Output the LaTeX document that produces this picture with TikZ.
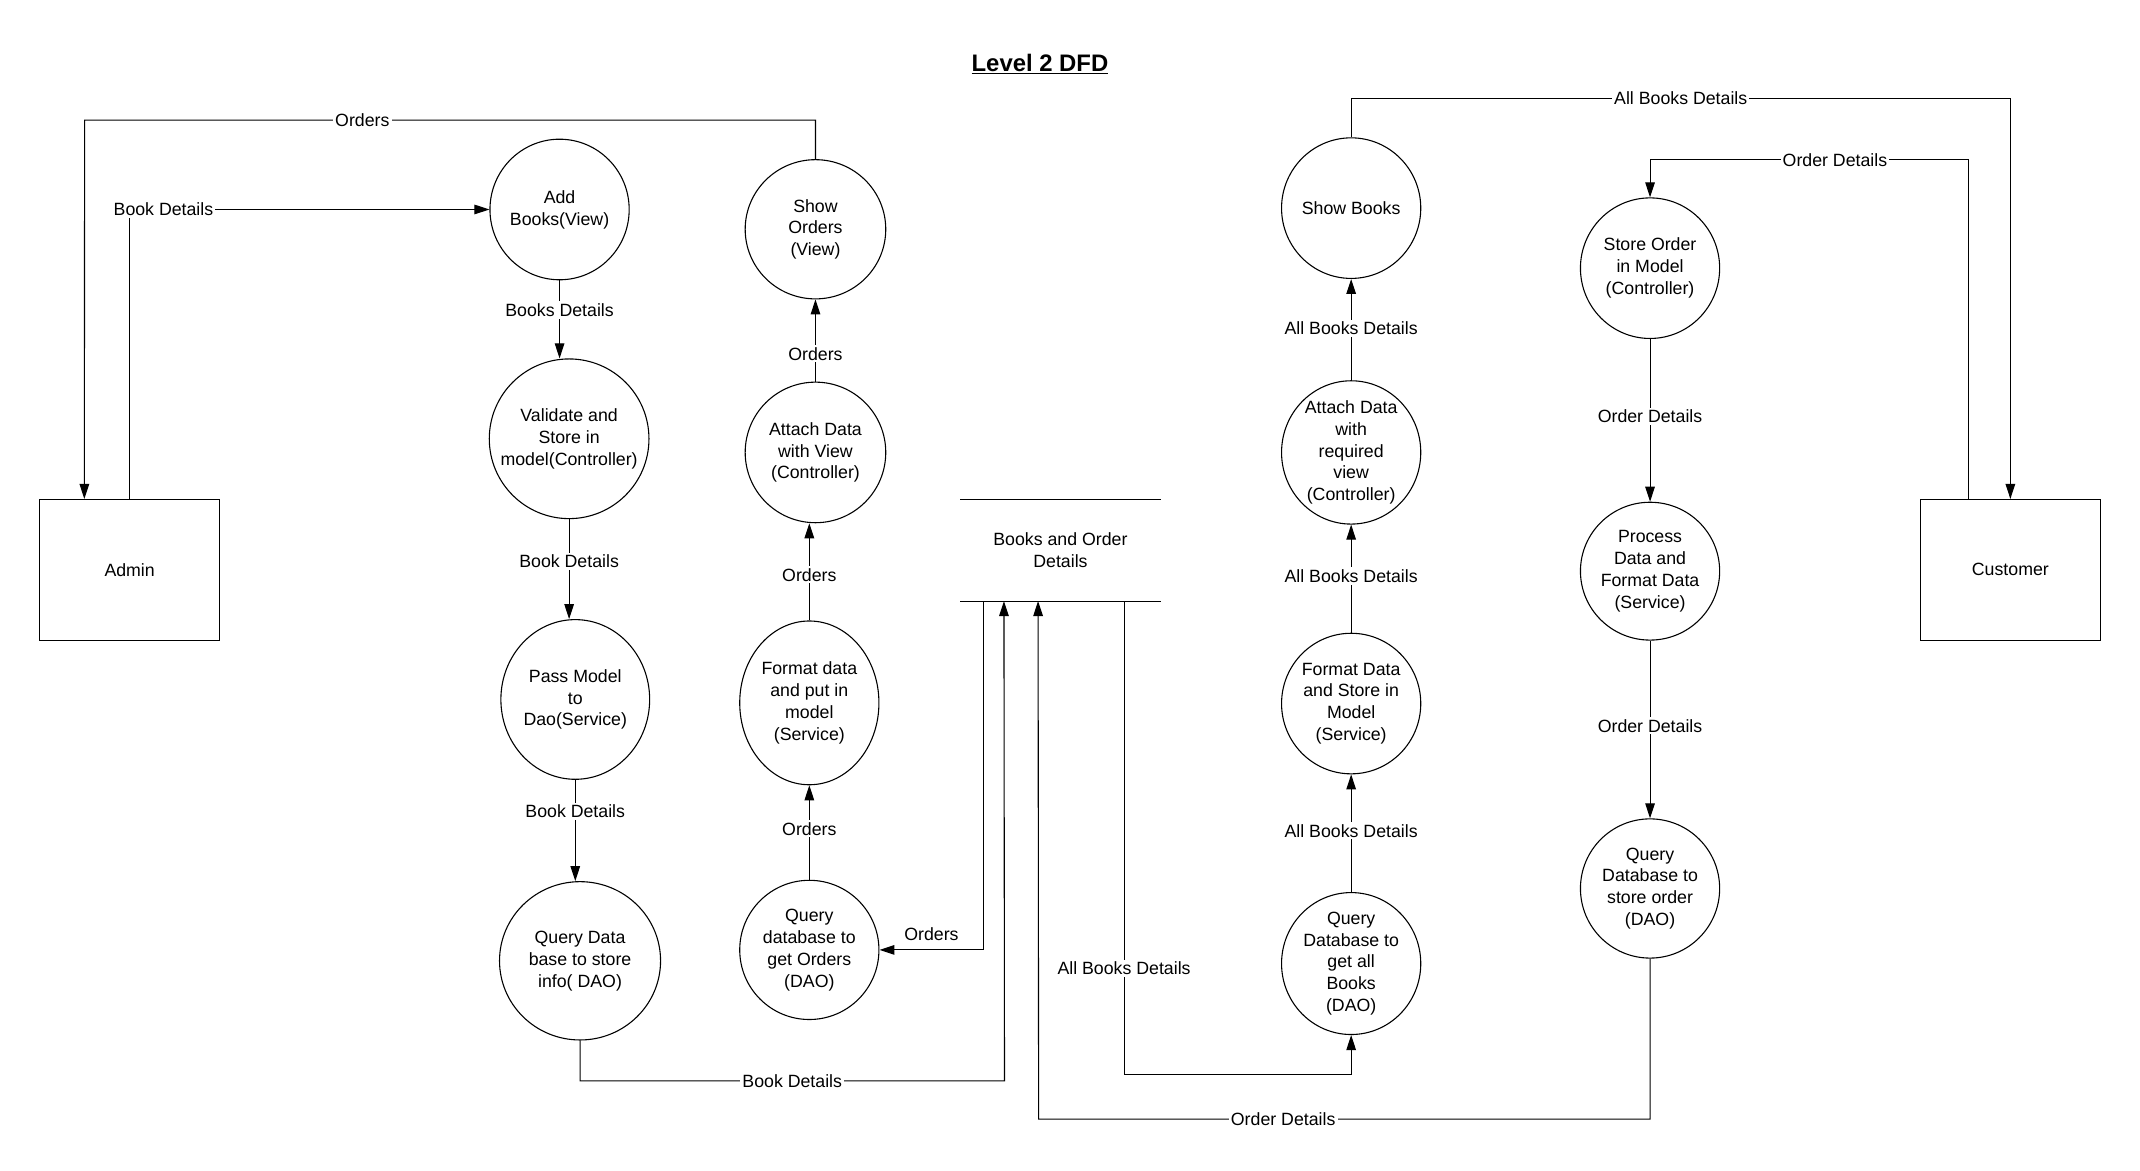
\documentclass[tikz,border=0pt]{standalone}
\usepackage{fontspec}
\setmainfont{Liberation Sans}
\usetikzlibrary{arrows.meta,shapes.geometric,calc}
\begin{document}
\begin{tikzpicture}[x=1pt,y=-1pt, line width=0.8pt, font=\fontsize{13}{16}\selectfont,
  pr/.style={draw, ellipse, inner sep=0pt},
  lt/.style={align=center, inner sep=0pt},
  ent/.style={draw, minimum width=132pt, minimum height=103pt},
  flow/.style={-{Triangle[length=11pt,width=7pt]}},
  lbl/.style={fill=white, inner sep=1.5pt}]
\useasboundingbox (0,0) rectangle (1568,858);

% title
\node[font=\fontsize{17.5}{20}\selectfont\bfseries] (title) at (762,47) {\underline{Level 2 DFD}};

% external entities
\node[ent] (admin) at (95,417.5) {Admin};
\node[ent] (cust) at (1473,417.5) {Customer};

% data store
\node[minimum width=146pt, minimum height=73.6pt, inner sep=0pt, align=center] (store) at (777,403.2) {Books and Order\\Details};
\draw (store.north west) -- (store.north east);
\draw (store.south west) -- (store.south east);

% processes: admin side
\node[pr, minimum width=102pt, minimum height=103pt, label={[lt]center:{Add\\Books(View)}}] (addb) at (410,153.5) {};
\node[pr, minimum width=117pt, minimum height=117pt, label={[lt]center:{Validate and\\Store in\\model(Controller)}}] (val) at (417,321.5) {};
\node[pr, minimum width=109pt, minimum height=117pt, label={[lt]center:{Pass Model\\to\\Dao(Service)}}] (pass) at (421.5,512.5) {};
\node[pr, minimum width=118pt, minimum height=116pt, label={[lt]center:{Query Data\\base to store\\info( DAO)}}] (qdata) at (425,704) {};

\node[pr, minimum width=103pt, minimum height=102pt, label={[lt]center:{Show\\Orders\\(View)}}] (sord) at (597.5,168) {};
\node[pr, minimum width=103pt, minimum height=103pt, label={[lt]center:{Attach Data\\with View\\(Controller)}}] (attv) at (597.5,331.5) {};
\node[pr, minimum width=102pt, minimum height=120pt, label={[lt]center:{Format data\\and put in\\model\\(Service)}}] (fmt) at (593,515) {};
\node[pr, minimum width=102pt, minimum height=102pt, label={[lt]center:{Query\\database to\\get Orders\\(DAO)}}] (qord) at (593,696) {};

% processes: customer side
\node[pr, minimum width=102pt, minimum height=103pt, label={[lt]center:{Show Books}}] (sbk) at (990,152.5) {};
\node[pr, minimum width=102pt, minimum height=105pt, label={[lt]center:{Attach Data\\with\\required\\view\\(Controller)}}] (attr) at (990,331.5) {};
\node[pr, minimum width=102pt, minimum height=103pt, label={[lt]center:{Format Data\\and Store in\\Model\\(Service)}}] (fmtb) at (990,515.5) {};
\node[pr, minimum width=102pt, minimum height=104pt, label={[lt]center:{Query\\Database to\\get all\\Books\\(DAO)}}] (qbk) at (990,706) {};

\node[pr, minimum width=102pt, minimum height=103pt, label={[lt]center:{Store Order\\in Model\\(Controller)}}] (sto) at (1209,196.5) {};
\node[pr, minimum width=102pt, minimum height=101pt, label={[lt]center:{Process\\Data and\\Format Data\\(Service)}}] (proc) at (1209,418.5) {};
\node[pr, minimum width=102pt, minimum height=102pt, label={[lt]center:{Query\\Database to\\store order\\(DAO)}}] (qst) at (1209,651) {};

% helper coordinates
\coordinate (a1) at ($(admin.north west)!0.25!(admin.north east)$);
\coordinate (c2) at ($(cust.north west)+(36,0)$);
\coordinate (s1) at ($(store.south west)+(17,0)$);
\coordinate (s2) at ($(store.south west)+(32,0)$);
\coordinate (s3) at ($(store.south west)+(57,0)$);
\coordinate (s4) at ($(store.south west)+(120,0)$);
\coordinate (kOrd) at (62,88);
\coordinate (kAB) at (1473,72);
\coordinate (kOD) at (1209,117);
\coordinate (kBD) at (736,792);
\coordinate (kOD2) at (761,820);
\coordinate (kAB2) at (990,787);

% admin side flows
\draw[flow] (admin.north) |- node[lbl,pos=0.547]{Book Details} (addb.west);
\draw[flow] (sord.north) |- node[lbl,pos=0.81]{Orders} (kOrd) -- (a1);
\draw[flow] (addb.south) -- node[lbl,pos=0.38]{Books Details} (addb.south |- val.north);
\draw[flow] (val.south) -- node[lbl,pos=0.42]{Book Details} (val.south |- pass.north);
\draw[flow] (pass.south) -- node[lbl,pos=0.31]{Book Details} (pass.south |- qdata.north);
\draw[flow] (qdata.south) |- node[lbl,pos=0.75]{Book Details} (kBD) -- (s2);

\draw[flow] (attv.north) -- node[lbl,pos=0.34]{Orders} (sord.south);
\draw[flow] (fmt.north) -- node[lbl,pos=0.47]{Orders} (fmt.north |- attv.south);
\draw[flow] (qord.north) -- node[lbl,pos=0.54]{Orders} (fmt.south);
\draw[flow] (s1) |- node[above,pos=0.75,inner sep=3pt,yshift=3pt]{Orders} (qord.east);

% customer side flows
\draw[flow] (sbk.north) |- node[lbl,pos=0.75]{All Books Details} (kAB) -- (cust.north);
\draw[flow] (attr.north) -- node[lbl,pos=0.51]{All Books Details} (sbk.south);
\draw[flow] (fmtb.north) -- node[lbl,pos=0.525]{All Books Details} (attr.south);
\draw[flow] (qbk.north) -- node[lbl,pos=0.52]{All Books Details} (fmtb.south);
\draw[flow] (s4) |- node[lbl,pos=0.388]{All Books Details} (kAB2) -- (qbk.south);

\draw[flow] (c2) |- node[lbl,pos=0.71]{Order Details} (kOD) -- (sto.north);
\draw[flow] (sto.south) -- node[lbl,pos=0.475]{Order Details} (proc.north);
\draw[flow] (proc.south) -- node[lbl,pos=0.48]{Order Details} (qst.north);
\draw[flow] (qst.south) |- node[lbl,pos=0.80]{Order Details} (kOD2) -- (s3);
\end{tikzpicture}
\end{document}
